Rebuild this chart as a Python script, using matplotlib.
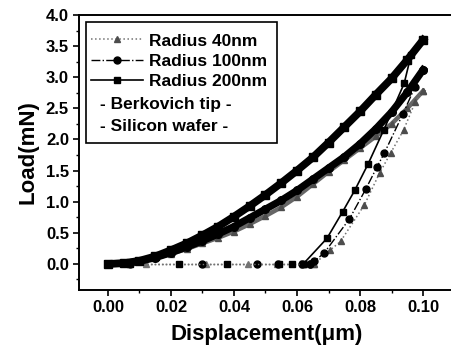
import numpy as np
import matplotlib
matplotlib.use("Agg")
import matplotlib.pyplot as plt
import matplotlib.patches as patches
from matplotlib.ticker import MultipleLocator, FormatStrFormatter

plt.rcParams['font.family'] = ['Liberation Sans', 'DejaVu Sans']
plt.rcParams['font.weight'] = 'bold'

# Loading curves (displacement in um, load in mN)
load_x = [0.0, 0.005, 0.01, 0.015, 0.02, 0.025, 0.03, 0.035, 0.04, 0.045, 0.05,
          0.055, 0.06, 0.065, 0.07, 0.075, 0.08, 0.085, 0.09, 0.095, 0.1]
load_200 = [0.0, 0.01, 0.05, 0.12, 0.22, 0.33, 0.46, 0.6, 0.76, 0.93, 1.11,
            1.3, 1.5, 1.71, 1.95, 2.2, 2.45, 2.72, 2.98, 3.28, 3.6]
load_100 = [0.0, 0.01, 0.04, 0.1, 0.18, 0.27, 0.37, 0.48, 0.6, 0.74, 0.88,
            1.02, 1.18, 1.36, 1.54, 1.72, 1.93, 2.17, 2.44, 2.76, 3.12]
load_40 = [0.0, 0.01, 0.04, 0.09, 0.16, 0.24, 0.33, 0.42, 0.52, 0.64, 0.77,
           0.91, 1.08, 1.28, 1.48, 1.67, 1.86, 2.05, 2.25, 2.5, 2.78]

# Unloading curves
unl200_x = [0.1, 0.0962, 0.094, 0.0875, 0.0825, 0.0783, 0.0745, 0.0695, 0.062]
unl200_y = [3.6, 3.36, 2.9, 2.15, 1.6, 1.18, 0.84, 0.41, 0.0]
unl100_x = [0.1, 0.0975, 0.0936, 0.0877, 0.0853, 0.0818, 0.0766, 0.0687, 0.0655, 0.064]
unl100_y = [3.12, 2.85, 2.41, 1.78, 1.55, 1.2, 0.72, 0.18, 0.04, 0.0]
unl40_x = [0.1, 0.0975, 0.0938, 0.0898, 0.0862, 0.0814, 0.0738, 0.0705, 0.0655]
unl40_y = [2.78, 2.6, 2.15, 1.79, 1.46, 0.95, 0.36, 0.22, 0.0]

# Zero-load retraction points
ret200_x = [0.062, 0.0585, 0.0543, 0.0377, 0.0226, 0.007, 0.0]
ret200_y = [0.0, 0.0, 0.0, 0.0, 0.0, 0.0, 0.0]
ret100_x = [0.064, 0.0617, 0.054, 0.0474, 0.0297, 0.007, 0.0]
ret100_y = [0.0, 0.0, 0.0, 0.0, 0.0, 0.0, 0.0]
ret40_x = [0.0655, 0.0625, 0.0535, 0.0445, 0.031, 0.012, 0.0]
ret40_y = [0.0, 0.0, 0.0, 0.0, 0.0, 0.0, 0.0]

labels = ['Radius 40nm', 'Radius 100nm', 'Radius 200nm']
notes = ['- Berkovich tip -', '- Silicon wafer -']

W, H = 451, 354
fig = plt.figure(figsize=(W / 100, H / 100), dpi=100)
ax = fig.add_axes([78.6 / W, 64 / H, 376 / W, 275 / H])

gray = '0.45'

# zero-load dotted segments
ax.plot(ret40_x, ret40_y, ':', color=gray, lw=1, marker='^', ms=4, mfc=gray, mec=gray)
ax.plot(ret100_x, ret100_y, ':', color=gray, lw=1, marker='o', ms=5, mfc='k', mec='k')
ax.plot(ret200_x, ret200_y, ':', color=gray, lw=1, marker='s', ms=5, mfc='k', mec='k')

# loading bands
ax.plot(load_x, load_40, '-', color='0.4', lw=3.2, marker='^', ms=4, mfc='0.3', mec='0.3')
ax.plot(load_x, load_100, '-', color='k', lw=5.2, marker='o', ms=5.5, mfc='k', mec='k')
ax.plot(load_x, load_200, '-', color='k', lw=5.5, marker='s', ms=5.5, mfc='k', mec='k')

# unloading
l40, = ax.plot(unl40_x, unl40_y, ':', color=gray, lw=1.1, marker='^', ms=4, mfc='0.3', mec='0.3')
l100, = ax.plot(unl100_x, unl100_y, '-.', color='k', lw=1, marker='o', ms=5, mfc='k', mec='k')
l200, = ax.plot(unl200_x, unl200_y, '-', color='k', lw=1.2, marker='s', ms=5, mfc='k', mec='k')

ax.set_xlim(-0.0093, 0.11)
ax.set_ylim(-0.42, 4.0)
ax.xaxis.set_major_locator(MultipleLocator(0.02))
ax.xaxis.set_minor_locator(MultipleLocator(0.01))
ax.yaxis.set_major_locator(MultipleLocator(0.5))
ax.yaxis.set_minor_locator(MultipleLocator(0.25))
ax.xaxis.set_major_formatter(FormatStrFormatter('%.2f'))
ax.yaxis.set_major_formatter(FormatStrFormatter('%.1f'))
ax.tick_params(which='major', direction='out', length=4, width=1.2, labelsize=12, pad=3)
ax.tick_params(which='minor', direction='out', length=2, width=1)
for s in ax.spines.values():
    s.set_linewidth(1.4)

ax.set_xlabel('Displacement(\u03bcm)', fontsize=16, fontweight='bold', labelpad=7)
ax.set_ylabel('Load(mN)', fontsize=16, fontweight='bold', labelpad=5)

# legend frame and entries
frame = patches.Rectangle((0.0197, 0.5345), 0.5083, 0.44, transform=ax.transAxes,
                          fill=True, facecolor='white', edgecolor='k', lw=1.2, zorder=5)
ax.add_patch(frame)
leg = ax.legend([l40, l100, l200], labels, loc='upper left',
                bbox_to_anchor=(-0.008, 0.99), frameon=False,
                handlelength=3.0, handletextpad=0.3, labelspacing=0.3,
                prop={'weight': 'bold', 'size': 12.5})
leg.set_zorder(6)
ax.text(0.057, 0.673, notes[0], transform=ax.transAxes, fontsize=12.5,
        fontweight='bold', va='center', zorder=7)
ax.text(0.057, 0.596, notes[1], transform=ax.transAxes, fontsize=12.5,
        fontweight='bold', va='center', zorder=7)

fig.savefig('out.png', dpi=100)
